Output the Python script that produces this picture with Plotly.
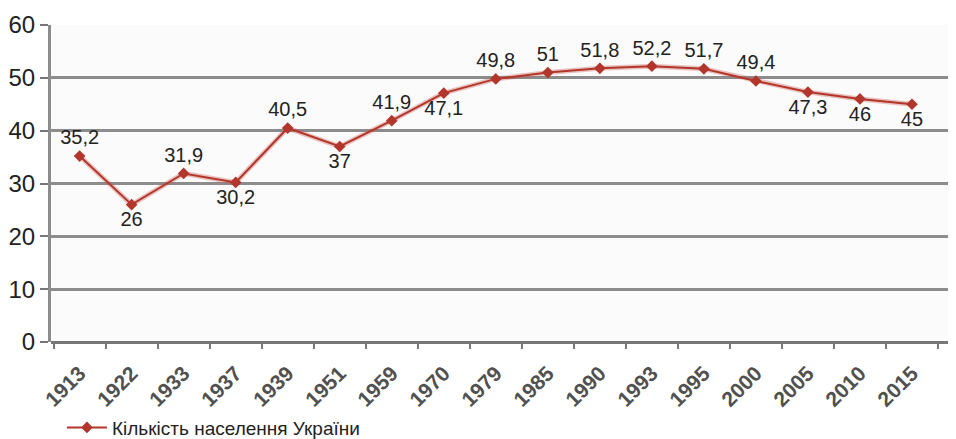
import plotly.graph_objects as go

# ── Data ─────────────────────────────────────────────────────────────────────
years = ["1913", "1922", "1933", "1937", "1939", "1951", "1959", "1970", "1979",
         "1985", "1990", "1993", "1995", "2000", "2005", "2010", "2015"]
population = [35.2, 26, 31.9, 30.2, 40.5, 37, 41.9, 47.1, 49.8,
              51, 51.8, 52.2, 51.7, 49.4, 47.3, 46, 45]
label_pos = ["top center", "bottom center", "top center", "bottom center",
             "top center", "bottom center", "top center", "bottom center",
             "top center", "top center", "top center", "top center",
             "top center", "top center", "bottom center", "bottom center",
             "bottom center"]
series_name = "Кількість населення України"

labels = [f"{v:g}".replace(".", ",") for v in population]

FONT = "Liberation Sans, Arial, sans-serif"
GRID = "#8c8c8c"
LINE = "#b3362c"

fig = go.Figure()

# soft halo under the line
fig.add_trace(go.Scatter(
    x=years, y=population, mode="lines",
    line=dict(color="rgba(200,90,80,0.35)", width=5),
    hoverinfo="skip", showlegend=False,
))

fig.add_trace(go.Scatter(
    x=years, y=population,
    mode="lines+markers+text",
    name=series_name,
    line=dict(color=LINE, width=2),
    marker=dict(symbol="diamond", size=9, color=LINE),
    text=labels,
    textposition=label_pos,
    textfont=dict(size=20, color="#222222", family=FONT),
    cliponaxis=False,
))

# page body has a small default margin, so the margins are offset for it
fig.update_layout(
    width=956, height=439,
    margin=dict(l=43, r=0, t=17, b=100),
    paper_bgcolor="white",
    plot_bgcolor="#fbfbfb",
    font=dict(family=FONT, color="#222222"),
    showlegend=True,
    legend=dict(
        orientation="h", x=0.012, y=-0.27, xanchor="left", yanchor="middle",
        font=dict(size=19, color="#222222"),
        bgcolor="rgba(0,0,0,0)", itemwidth=40,
    ),
    xaxis=dict(
        type="category",
        range=[-0.55, 17.0],
        automargin=False,
        tickangle=-45,
        tickfont=dict(size=21, color="#505050", family=FONT, weight="bold"),
        ticklabelstandoff=14,
        showgrid=False,
        ticks="outside", ticklen=6, tickcolor="#777777", tickwidth=2,
        tickson="boundaries",
        showline=False,
        zeroline=False,
    ),
    yaxis=dict(
        range=[0, 60],
        automargin=False,
        tickvals=[0, 10, 20, 30, 40, 50, 60],
        tickfont=dict(size=24, color="#222222"),
        showgrid=True, gridcolor=GRID, gridwidth=2.5,
        ticks="outside", ticklen=8, tickcolor="#777777", tickwidth=2,
        showline=True, linecolor=GRID, linewidth=3,
        zeroline=True, zerolinecolor="#777777", zerolinewidth=3,
    ),
)

fig.write_html("out.html")
